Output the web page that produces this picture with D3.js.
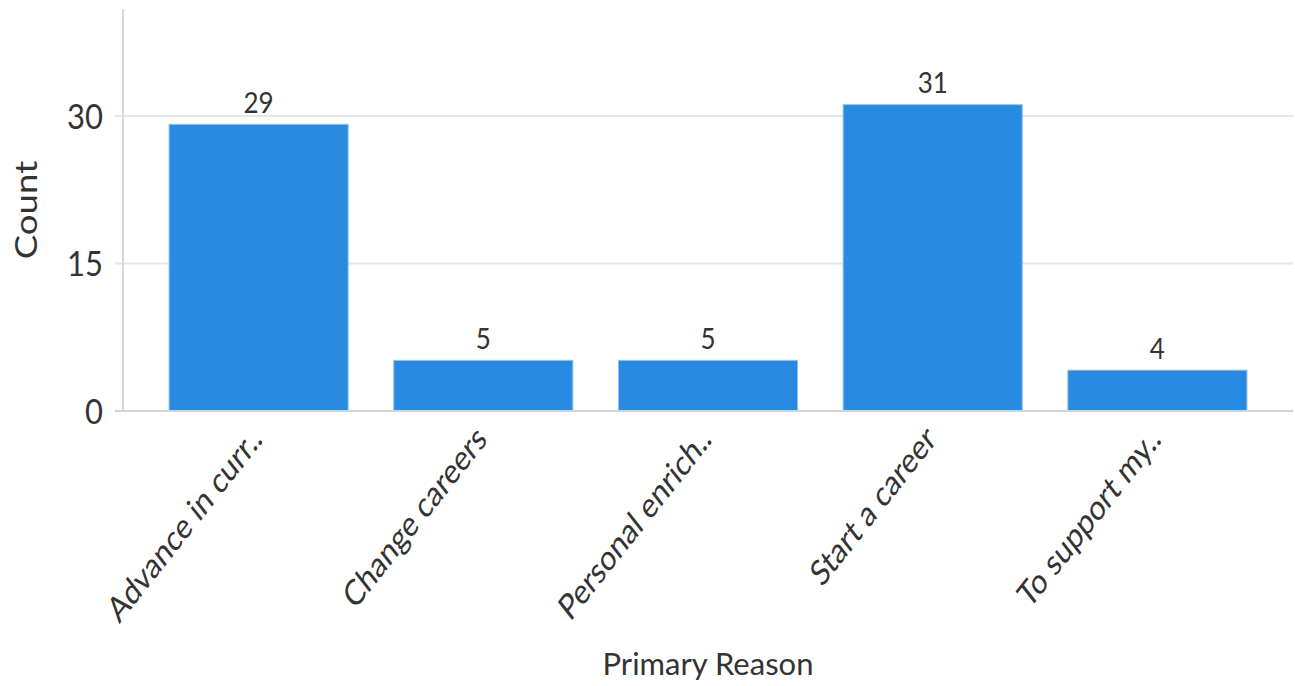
<!DOCTYPE html>
<html>
<head>
<meta charset="utf-8">
<script src="https://cdn.jsdelivr.net/npm/d3@7"></script>
<style>
  html, body { margin: 0; padding: 0; background: #fff; }
  svg { display: block; }
  text { font-family: Lato, "Open Sans", sans-serif; fill: #333; }
</style>
</head>
<body>
<svg id="chart" width="1295" height="686"></svg>
<script>
const categories = ["Advance in curr..", "Change careers", "Personal enrich..", "Start a career", "To support my.."];
const counts = [29, 5, 5, 31, 4];
const yTicks = [0, 15, 30];
const xTitle = "Primary Reason";
const yTitle = "Count";

const svg = d3.select("#chart");
const mLeft = 123, mRight = 1293, mTop = 9, mBottom = 411;
const S = 1.12;   // vertical text stretch seen in the reference
const SX = 1.27;  // stretch of the slanted category labels

const x = d3.scaleBand().domain(categories).range([mLeft, mRight]).paddingInner(0.203).paddingOuter(0.205);
const y = d3.scaleLinear().domain([0, 40.88]).range([mBottom, mTop]);

// gridlines
svg.append("g").selectAll("line").data(yTicks.filter(d => d > 0)).join("line")
  .attr("x1", mLeft - 8).attr("x2", mRight)
  .attr("y1", d => y(d)).attr("y2", d => y(d))
  .attr("stroke", "#e6e6e6").attr("stroke-width", 2);

// y axis line
svg.append("line").attr("x1", mLeft).attr("x2", mLeft).attr("y1", mTop).attr("y2", mBottom)
  .attr("stroke", "#d9d9d9").attr("stroke-width", 2);

// bars
svg.append("g").selectAll("rect").data(categories).join("rect")
  .attr("x", d => x(d))
  .attr("width", x.bandwidth())
  .attr("y", (d, i) => y(counts[i]) - 1.5)
  .attr("height", (d, i) => y(0) - y(counts[i]) + 1.5)
  .attr("fill", "#288ae0")
  .attr("stroke", "#8cc3f0").attr("stroke-width", 1);

// baseline
svg.append("line").attr("x1", mLeft - 8).attr("x2", mRight).attr("y1", y(0)).attr("y2", y(0))
  .attr("stroke", "#d4d4d4").attr("stroke-width", 2);

// y tick labels
svg.append("g").selectAll("text").data(yTicks).join("text")
  .attr("transform", d => `translate(103,${y(d)}) scale(1,${S})`)
  .attr("dy", "0.36em")
  .attr("text-anchor", "end")
  .attr("font-size", 31)
  .text(d => d);

// value labels
svg.append("g").selectAll("text").data(categories).join("text")
  .attr("transform", (d, i) => `translate(${x(d) + x.bandwidth() / 2},${y(counts[i]) - 13}) scale(1,${S})`)
  .attr("text-anchor", "middle")
  .attr("font-size", 26)
  .text((d, i) => counts[i]);

// x category labels
svg.append("g").selectAll("text").data(categories).join("text")
  .attr("transform", d => `translate(${x(d) + x.bandwidth() / 2 + 5},${441}) scale(1,${SX}) rotate(-45)`)
  .attr("text-anchor", "end")
  .attr("font-size", 28)
  .text(d => d);

// axis titles
svg.append("text")
  .attr("x", (mLeft + mRight) / 2).attr("y", 675)
  .attr("text-anchor", "middle")
  .attr("font-size", 31)
  .text(xTitle);

svg.append("text")
  .attr("transform", `translate(37,210) scale(1,1.22) rotate(-90)`)
  .attr("text-anchor", "middle")
  .attr("font-size", 30)
  .text(yTitle);
</script>
</body>
</html>
